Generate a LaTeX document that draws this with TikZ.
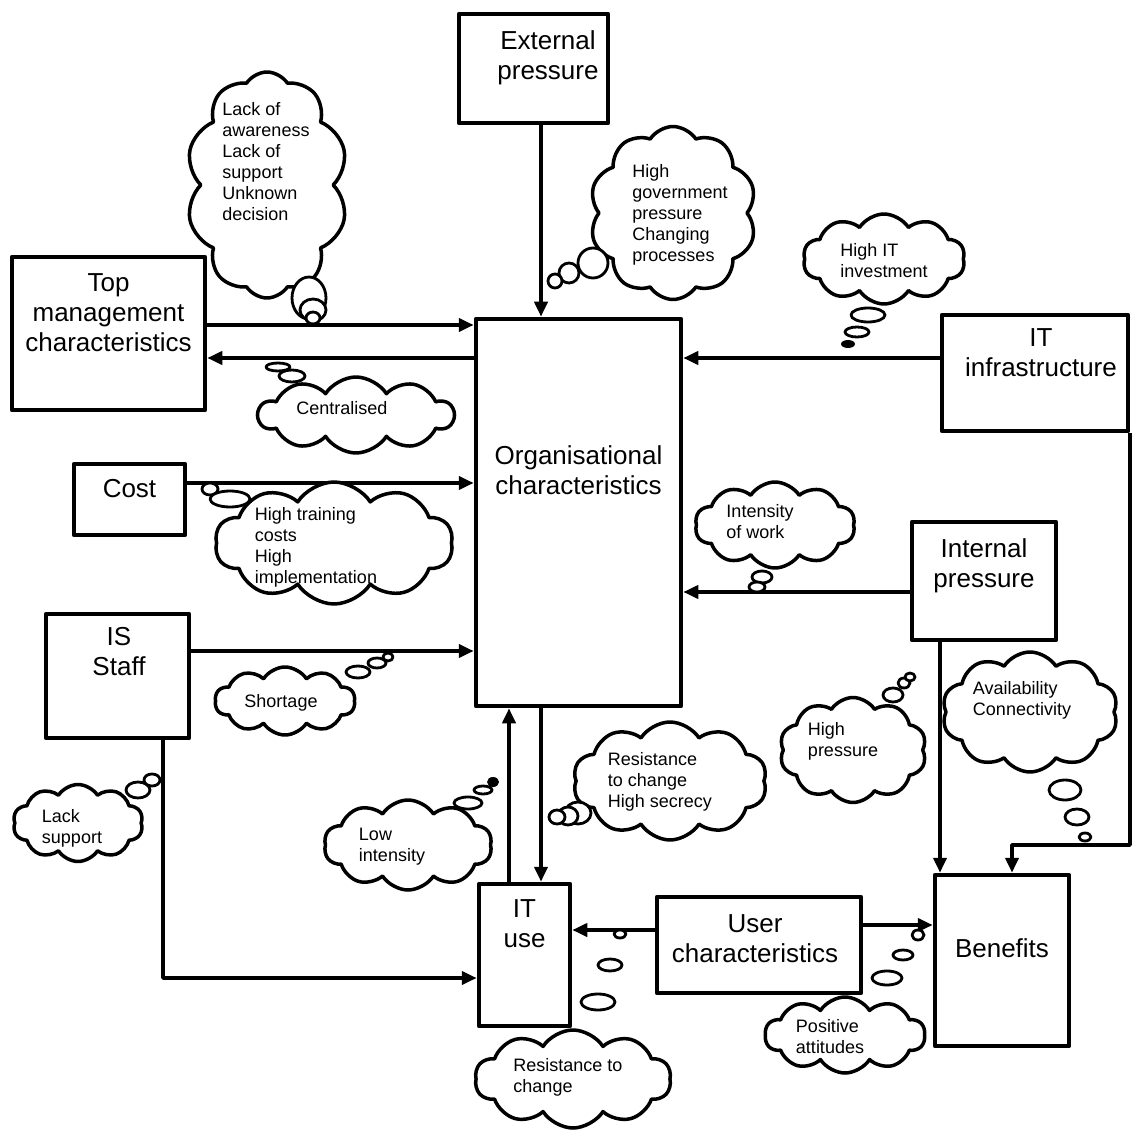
\documentclass[tikz,border=0pt]{standalone}
\usepackage{fontspec}
\setmainfont{Liberation Sans}
\usetikzlibrary{positioning,shapes.symbols,arrows.meta}

\begin{document}
\begin{tikzpicture}[x=1pt,y=-1pt,>={Triangle[length=15pt,width=13pt]},line join=round,
    box/.style={draw,line width=4.5pt,inner sep=0pt},
    boxtext/.style={align=center,inner sep=0pt,font=\fontsize{26}{30}\selectfont},
    thought/.style={cloud,cloud puffs=10,cloud puff arc=115,cloud ignores aspect,draw,line width=3.5pt,fill=white,inner sep=0pt},
    thoughttext/.style={align=left,inner sep=0pt,font=\fontsize{18}{21}\selectfont},
    bubble/.style={draw,line width=2.8pt,fill=white},
    link/.style={->,line width=3.8pt}]
    \useasboundingbox (0,0) rectangle (1146,1131);
    % boxes
    \node[box,minimum width=149,minimum height=109] (extp) at (533.5,68.5) {};
    \node[box,minimum width=193,minimum height=153] (topm) at (108.5,333.5) {};
    \node[box,minimum width=205,minimum height=387] (org) at (578.5,512.5) {};
    \node[box,minimum width=186,minimum height=116] (itinf) at (1035,373) {};
    \node[box,minimum width=111,minimum height=71] (cost) at (129.5,499.5) {};
    \node[box,minimum width=144,minimum height=118] (intp) at (984,581) {};
    \node[box,minimum width=143,minimum height=124] (iss) at (117.5,676) {};
    \node[box,minimum width=91,minimum height=142] (itu) at (524.5,955) {};
    \node[box,minimum width=204,minimum height=96] (usr) at (759,945) {};
    \node[box,minimum width=134,minimum height=171] (ben) at (1002,960.5) {};
    \node[boxtext,below=19pt of extp.north,xshift=14.5pt] (extpT) {External\\pressure};
    \node[boxtext,below=19pt of topm.north] (topmT) {Top\\management\\characteristics};
    \node[boxtext,below=129pt of org.north] (orgT) {Organisational\\characteristics};
    \node[boxtext,below=16pt of itinf.north,xshift=6pt] (itinfT) {IT\\infrastructure};
    \node[boxtext,below=17pt of cost.north] (costT) {Cost};
    \node[boxtext,below=19pt of intp.north] (intpT) {Internal\\pressure};
    \node[boxtext,below=15pt of iss.north,xshift=1.5pt] (issT) {IS\\Staff};
    \node[boxtext,below=18pt of itu.north] (ituT) {IT\\use};
    \node[boxtext,below=20pt of usr.north,xshift=-4pt] (usrT) {User\\characteristics};
    \node[boxtext,below=66pt of ben.north] (benT) {Benefits};
    % arrows
    \draw[link] (extp.south -| 541,0) -- (org.north -| 541,0);
    \draw[link] (topm.east |- 0,325) -- (org.west |- 0,325);
    \draw[link] (org.west |- 0,358) -- (topm.east |- 0,358);
    \draw[link] (itinf.west |- 0,358) -- (org.east |- 0,358);
    \draw[link] (cost.east |- 0,483) -- (org.west |- 0,483);
    \draw[link] (intp.west |- 0,592) -- (org.east |- 0,592);
    \draw[link] (iss.east |- 0,651) -- (org.west |- 0,651);
    \draw[link] (itu.north -| 509,0) -- (org.south -| 509,0);
    \draw[link] (org.south -| 541,0) -- (itu.north -| 541,0);
    \draw[link] (iss.south -| 163,0) |- (itu.west |- 0,978);
    \draw[link] (usr.west |- 0,930) -- (itu.east |- 0,930);
    \draw[link] (usr.east |- 0,925) -- (ben.west |- 0,925);
    \draw[link] (intp.south -| 940,0) -- (ben.north -| 940,0);
    \draw[link] (itinf.south -| 1130,0) |- (1012,845) -- (ben.north -| 1012,0);
    % clouds
    \node[thought,minimum width=162,minimum height=226] (cl1) at (267,185) {};
    \node[thoughttext] (cl1t) at (266,162) {Lack of\\awareness\\Lack of\\support\\Unknown\\decision};
    \node[thought,minimum width=167,minimum height=173] (cl2) at (673,213) {};
    \node[thoughttext] (cl2t) at (680,215) {High\\government\\pressure\\Changing\\processes};
    \node[thought,minimum width=162,minimum height=90] (cl3) at (884,259) {};
    \node[thoughttext] (cl3t) at (884,261) {High IT\\investment};
    \node[thought,minimum width=195,minimum height=76] (cl4) at (356,415) {};
    \node[thoughttext] (cl4t) at (342,408) {Centralised};
    \node[thought,minimum width=238,minimum height=122] (cl5) at (334,543) {};
    \node[thoughttext] (cl5t) at (316,547) {High training\\costs\\High\\implementation};
    \node[thought,minimum width=160,minimum height=86] (cl6) at (775,525) {};
    \node[thoughttext] (cl6t) at (760,522) {Intensity\\of work};
    \node[thought,minimum width=140,minimum height=68] (cl7) at (285,701) {};
    \node[thoughttext] (cl7t) at (281,703) {Shortage};
    \node[thought,minimum width=194,minimum height=118] (cl8) at (670,781) {};
    \node[thoughttext] (cl8t) at (660,782) {Resistance\\to change\\High secrecy};
    \node[thought,minimum width=130,minimum height=77] (cl9) at (78,823) {};
    \node[thoughttext] (cl9t) at (72,828) {Lack\\support};
    \node[thought,minimum width=168,minimum height=90] (cl10) at (408,845) {};
    \node[thoughttext] (cl10t) at (392,847) {Low\\intensity};
    \node[thought,minimum width=147,minimum height=105] (cl11) at (853,750) {};
    \node[thoughttext] (cl11t) at (843,741) {High\\pressure};
    \node[thought,minimum width=176,minimum height=120] (cl12) at (1030,712) {};
    \node[thoughttext] (cl12t) at (1022,700) {Availability\\Connectivity};
    \node[thought,minimum width=196,minimum height=98] (cl13) at (573,1079) {};
    \node[thoughttext] (cl13t) at (568,1077) {Resistance to\\change};
    \node[thought,minimum width=160,minimum height=76] (cl14) at (845,1035) {};
    \node[thoughttext] (cl14t) at (830,1037) {Positive\\attitudes};
    % thought bubbles
    \foreach \x/\y/\a/\b in {309/298/17/21,313/310/13/11,313/318/7/6,
        593/263/15/15,569/273/10/10,555/281/7/7,
        868/315/17/7,857/332/12/5,
        278/367/12/4,292/376/13/6,
        210/489/8/6,230/499/20/8,
        762/577/10/6,757/587/8/5,
        358/672/12/6,377/663/9/5,388/657/5/4,
        578/813/13/11,568/816/10/9,557/817/8/7,
        138/790/12/8,152/780/8/6,
        468/803/14/6,483/790/9/4,
        893/695/10/7,904/683/6/5,910/677/5/4,
        1065/790/16/10,1077/817/12/8,1085/837/6/4,
        598/1002/17/8,610/965/12/6,620/934/6/4,
        887/978/15/7,903/955/10/5,918/935/6/5}
    \draw[bubble] (\x,\y) ellipse [x radius=\a pt,y radius=\b pt];
    \fill (848,344) ellipse [x radius=7pt,y radius=4pt];
    \fill (493,782) ellipse [x radius=6pt,y radius=5pt];
\end{tikzpicture}
\end{document}
